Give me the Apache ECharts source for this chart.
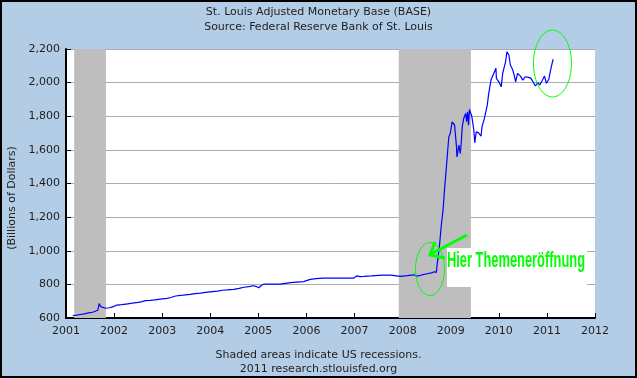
<!DOCTYPE html>
<html><head><meta charset="utf-8">
<script src="https://cdn.jsdelivr.net/npm/echarts@6/dist/echarts.min.js"></script>
<style>
html,body{margin:0;padding:0;background:#b4cde6;}
#c{width:637px;height:378px;position:absolute;left:0;top:0;}
#frame{position:absolute;left:0;top:0;width:637px;height:378px;box-sizing:border-box;border:2px solid #000;pointer-events:none;}
</style>
</head><body><div id="c"></div><div id="frame"></div>
<script>
// Decimal-year dates and St. Louis Adjusted Monetary Base (billions of dollars)
const years = [
2001.14,2001.22,2001.30,2001.38,2001.47,2001.55,2001.61,2001.66,2001.69,2001.72,2001.76,2001.82,2001.90,2001.97,
2002.06,2002.15,2002.25,2002.38,2002.50,2002.58,2002.65,2002.75,2002.85,
2003.00,2003.10,2003.18,2003.28,2003.38,2003.48,2003.58,2003.69,2003.80,2003.90,
2004.04,2004.15,2004.25,2004.35,2004.49,2004.60,2004.70,2004.80,2004.90,2004.96,
2005.01,2005.06,2005.11,2005.25,2005.46,2005.56,2005.67,2005.80,2005.94,
2006.00,2006.08,2006.20,2006.36,2006.50,2006.71,2006.85,2006.98,
2007.05,2007.12,2007.19,2007.35,2007.50,2007.61,2007.75,2007.95,
2008.10,2008.23,2008.30,2008.40,2008.51,2008.60,2008.65,2008.70,2008.72,2008.77,2008.80,2008.84,2008.87,2008.91,2008.95,2008.96,2008.99,
2009.03,2009.06,2009.08,2009.12,2009.13,2009.17,2009.20,2009.22,2009.24,2009.27,2009.31,2009.33,2009.35,2009.37,2009.39,2009.41,2009.44,2009.48,2009.50,2009.53,2009.58,2009.63,2009.65,2009.70,2009.76,2009.79,2009.84,2009.88,2009.91,2009.94,2009.95,
2010.00,2010.05,2010.08,2010.14,2010.17,2010.21,2010.24,2010.29,2010.32,2010.35,2010.39,2010.45,2010.50,2010.55,2010.62,2010.67,2010.71,2010.76,2010.81,2010.85,2010.90,2010.95,2010.99,
2011.02,2011.04,2011.07,2011.11,2011.13
];
const base = [
615,617,621,625,630,634,640,646,686,668,663,658,661,666,
677,679,683,688,693,697,703,705,708,
714,717,722,731,734,738,741,745,748,752,
757,760,765,767,770,776,783,787,792,787,
780,793,801,801,801,806,810,813,816,
822,830,834,837,837,837,838,837,
851,846,847,850,853,855,855,848,
852,857,849,856,863,868,875,871,923,1042,1141,1241,1360,1499,1503,1677,1697,
1767,1777,1747,1618,1558,1628,1578,1648,1737,1787,1817,1767,1827,1747,1841,1831,1797,1717,1642,1707,1701,1681,1737,1787,1866,1936,2019,2025,2065,2085,2025,
2005,1975,2055,2124,2184,2164,2105,2075,2045,2005,2055,2039,2015,2035,2031,2025,2005,1980,2000,1986,2011,2039,1996,
1986,2020,2065,2118,2139
];
const recessionStart = [2001.17, 2007.92];
const recessionEnd = [2001.83, 2009.42];
const yTicks = {min: 600, max: 2200, step: 200};
const xTicks = {min: 2001, max: 2012, step: 1};

const FONT = 'DejaVu Sans';
const TXT = '#1e1e1e';
const chart = echarts.init(document.getElementById('c'), null, {renderer: 'canvas'});
const data = years.map((y, i) => [y, base[i]]);
const areas = recessionStart.map((s, i) => [{xAxis: s}, {xAxis: recessionEnd[i]}]);

chart.setOption({
  animation: false,
  backgroundColor: '#b4cde6',
  title: [
    {text: 'St. Louis Adjusted Monetary Base (BASE)\nSource: Federal Reserve Bank of St. Louis',
     left: 'center', top: 0,
     textStyle: {fontFamily: FONT, fontSize: 11, fontWeight: 'normal', color: TXT, lineHeight: 15, align: 'center'}},
    {text: 'Shaded areas indicate US recessions.\n2011 research.stlouisfed.org',
     left: 'center', top: 343,
     textStyle: {fontFamily: FONT, fontSize: 11, fontWeight: 'normal', color: TXT, lineHeight: 14, align: 'center'}}
  ],
  grid: {left: 66, right: 42, top: 49, bottom: 60, show: true, backgroundColor: '#ffffff', borderWidth: 0},
  xAxis: {
    type: 'value', min: xTicks.min, max: xTicks.max, interval: xTicks.step,
    axisLine: {show: true, onZero: false, lineStyle: {color: '#000', width: 2}},
    axisTick: {show: true, inside: true, length: 5, lineStyle: {color: '#000', width: 1}},
    axisLabel: {fontFamily: FONT, fontSize: 11, color: TXT, margin: 8, formatter: v => String(v)},
    splitLine: {show: false}
  },
  yAxis: {
    type: 'value', min: yTicks.min, max: yTicks.max, interval: yTicks.step,
    axisLine: {show: true, onZero: false, lineStyle: {color: '#000', width: 2}},
    axisTick: {show: true, inside: true, length: 5, lineStyle: {color: '#000', width: 1}},
    axisLabel: {fontFamily: FONT, fontSize: 11, color: TXT, margin: 6, formatter: v => v.toLocaleString('en-US')},
    splitLine: {show: true, lineStyle: {color: '#acacac', width: 1}}
  },
  series: [{
    type: 'line', data: data, showSymbol: false, symbol: 'none',
    lineStyle: {color: '#0000ff', width: 1.2},
    markArea: {silent: true, itemStyle: {color: '#bebebe'}, data: areas}
  }],
  graphic: [
    {type: 'text', x: 12, y: 198, rotation: Math.PI / 2, z: 100,
     style: {text: '(Billions of Dollars)', font: '11px "DejaVu Sans"', fill: TXT, textAlign: 'center', textVerticalAlign: 'middle'}},
    {type: 'rect', z: 100, shape: {x: 447, y: 248, width: 140, height: 39}, style: {fill: '#ffffff'}},
    {type: 'text', x: 447, y: 250, scaleX: 0.585, z: 101,
     style: {text: 'Hier Themeneröffnung', font: 'bold 22px "Liberation Sans"', fill: '#00ff00', textVerticalAlign: 'top'}},
    {type: 'ellipse', z: 101, shape: {cx: 430, cy: 269, rx: 14.5, ry: 26.5}, style: {fill: null, stroke: '#00ff00', lineWidth: 1}},
    {type: 'ellipse', z: 101, shape: {cx: 552.5, cy: 63.5, rx: 19, ry: 33.5}, style: {fill: null, stroke: '#00ff00', lineWidth: 1}},
    {type: 'line', z: 101, shape: {x1: 467, y1: 235, x2: 431, y2: 254}, style: {stroke: '#00ff00', lineWidth: 3}},
    {type: 'polyline', z: 101, shape: {points: [[435, 242], [430, 255], [445, 258]]}, style: {fill: null, stroke: '#00ff00', lineWidth: 3}}
  ]
});
</script></body></html>
